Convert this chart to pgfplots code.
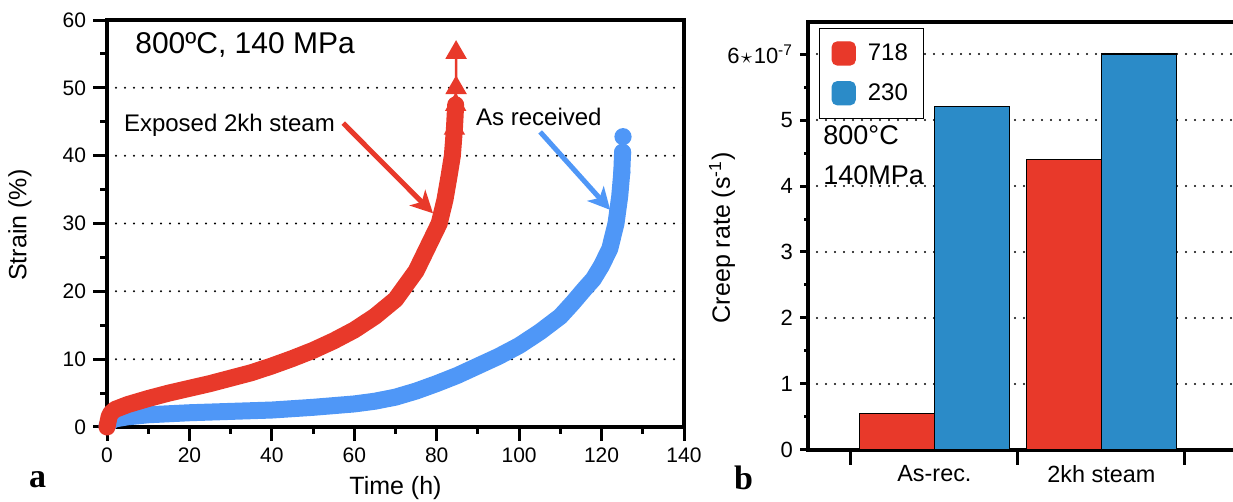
\documentclass[border=0pt]{standalone}
\usepackage{pgfplots}
\pgfplotsset{compat=1.18}
\usepackage{fontspec}
\setmainfont{Liberation Sans}
\newfontfamily\serifb{Liberation Serif}
\usetikzlibrary{arrows.meta}
\definecolor{redc}{HTML}{E8392A}
\definecolor{bluec}{HTML}{4F97F7}
\definecolor{barblue}{HTML}{2B8BC8}
\definecolor{barred}{HTML}{E8392A}
\tikzset{
  dotgrid/.style={black, line width=1.1pt, line cap=round, dash pattern=on 0pt off 4.5pt},
  tks/.style={draw=black, solid, line cap=butt, line width=1.5pt},
}
\pgfplotsset{
  rbox/.style={legend image code/.code={\fill[barred, rounded corners=2.5pt] (0pt,-5.75pt) rectangle (11.5pt,5.75pt);}},
  bbox/.style={legend image code/.code={\fill[barblue, rounded corners=2.5pt] (0pt,-5.75pt) rectangle (11.5pt,5.75pt);}},
}
\begin{document}
\begin{tikzpicture}
\useasboundingbox (0,0) rectangle (616.5pt,251pt);
% ---------------- panel a ----------------
\begin{axis}[
  at={(53.5pt,37.5pt)}, anchor=south west,
  scale only axis, width=288.5pt, height=203.5pt,
  xmin=0, xmax=140, ymin=0, ymax=60,
  xtick={0,20,...,140}, minor xtick={10,30,...,130},
  ytick={0,10,...,60}, minor ytick={5,15,...,55},
  tick align=outside, tick pos=left,
  major tick length=7pt, minor tick length=3.5pt,
  xtick style={tks}, ytick style={tks},
  major tick style={tks}, minor tick style={tks},
  axis line style={line width=1.6pt},
  ymajorgrids, major grid style={dotgrid},
  tick label style={font=\fontsize{10.5}{12}\selectfont},
  /pgf/number format/assume math mode=true,
  xlabel={Time (h)}, ylabel={Strain (\%)},
  label style={font=\fontsize{12.5}{14}\selectfont},
  xlabel style={at={(axis description cs:0.5,0)}, anchor=center, yshift=-30.5pt},
  ylabel style={at={(axis description cs:-0.1508,0.496)}, anchor=center},
  clip=false,
]
\addplot[bluec, line width=8.5pt, line cap=round, line join=round] coordinates {
(0,0.2) (1,0.9) (2,1.2) (5,1.5) (10,1.8) (20,2.1) (30,2.3) (40,2.5) (50,2.9) (60,3.4)
(65,3.8) (70,4.4) (75,5.3) (80,6.4) (85,7.6) (90,9.0) (95,10.4) (100,12.0) (105,14.0)
(110,16.3) (113,18.3) (115.8,20.3) (118,21.8) (120,23.8) (122,26.3) (123.5,30)
(124.4,34) (124.9,37.5) (125.1,40.5)};
\addplot[bluec, line width=1pt, mark=*, mark size=3.8pt] coordinates {
(124.9,37.5) (125.1,40.5) (125.2,42.8)};
\addplot[redc, line width=8.5pt, line cap=round, line join=round] coordinates {
(0,0) (0.5,1.5) (1,2.1) (2,2.6) (5,3.3) (10,4.2) (15,5.0) (20,5.7) (25,6.4) (30,7.2)
(35,8.0) (40,9.0) (45,10.1) (50,11.3) (55,12.7) (60,14.3) (65,16.3) (70,18.8) (75,23)
(77,25.5) (79,28) (80.6,30) (82,33.5) (83,37) (83.8,40) (84.3,44) (84.6,47.5)};
\addplot[redc, line width=1.2pt, mark=triangle*, mark size=5pt] coordinates {
(84.3,44) (84.6,47.5) (84.7,50) (84.7,55.2)};
\node[font=\fontsize{15}{17}\selectfont] at (axis cs:33.5,56.3) {800ºC, 140 MPa};
\node[font=\fontsize{12}{14}\selectfont] at (axis cs:29.7,44.5) {Exposed 2kh steam};
\node[font=\fontsize{12}{14}\selectfont] at (axis cs:104.8,45.7) {As received};
\draw[redc, line width=2.5pt, -{Stealth[length=11pt, width=11pt, inset=3pt]}] (axis cs:57.3,44.8) -- (axis cs:79.1,31.5);
\draw[bluec, line width=2.5pt, -{Stealth[length=11pt, width=11pt, inset=3pt]}] (axis cs:105.1,43.5) -- (axis cs:122.1,32.0);
\end{axis}
% ---------------- panel b ----------------
\begin{axis}[
  at={(404pt,26pt)}, anchor=south west,
  scale only axis, width=216pt, height=214pt,
  xmin=-0.757, xmax=1.83, ymin=0, ymax=6.485,
  xtick={0,1}, xticklabels={As-rec.,2kh steam},
  x tick label style={font=\fontsize{11.7}{13}\selectfont},
  extra x ticks={-0.5,0.5,1.5}, extra x tick labels={},
  extra x tick style={major tick length=7.5pt, xtick style={tks}},
  ytick={0,1,...,6}, yticklabels={0,1,2,3,4,5,{6{\kern0.8pt}$\star${\kern0.8pt}10\textsuperscript{-7}}},
  minor ytick={0.5,1.5,...,5.5},
  tick align=outside, tick pos=left,
  major tick length=4pt, minor tick length=2pt,
  major tick style={tks}, minor tick style={tks},
  ytick style={tks},
  xtick style={draw=none},
  axis line style={line width=1.6pt},
  ymajorgrids, major grid style={dotgrid},
  y tick label style={font=\fontsize{11}{12}\selectfont},
  ylabel={Creep rate (s\textsuperscript{-1})},
  label style={font=\fontsize{12.5}{14}\selectfont},
  ylabel style={at={(axis description cs:-0.199,0.496)}, anchor=center},
  legend style={at={(rel axis cs:0.0255,0.986)}, anchor=north west, draw=black, line width=0.6pt,
    font=\fontsize{12}{14}\selectfont, inner xsep=6pt, inner ysep=5.5pt, row sep=6pt,
    /tikz/every odd column/.append style={column sep=4pt}},
  legend cell align=left,
  clip=false,
]
\addplot[ybar, bar width=37.5pt, bar shift=-18.8pt, fill=barred, draw=black, line width=0.6pt, forget plot] coordinates {(0,0.55) (1,4.4)};
\addplot[ybar, bar width=37.5pt, bar shift=18.8pt, fill=barblue, draw=black, line width=0.6pt, forget plot] coordinates {(0,5.2) (1,6.0)};
\addlegendimage{rbox}\addlegendentry{718}
\addlegendimage{bbox}\addlegendentry{230}
\node[anchor=west, inner sep=0pt, font=\fontsize{13.5}{15}\selectfont] at (axis cs:-0.667,4.77) {800°C};
\node[anchor=west, inner sep=0pt, font=\fontsize{13.5}{15}\selectfont] at (axis cs:-0.667,4.17) {140MPa};
\end{axis}
\node[anchor=base west, font=\serifb\bfseries\fontsize{17}{19}\selectfont] at (11pt,7pt) {a};
\node[anchor=base west, font=\serifb\bfseries\fontsize{17}{19}\selectfont] at (363.5pt,6pt) {b};
\end{tikzpicture}
\end{document}
